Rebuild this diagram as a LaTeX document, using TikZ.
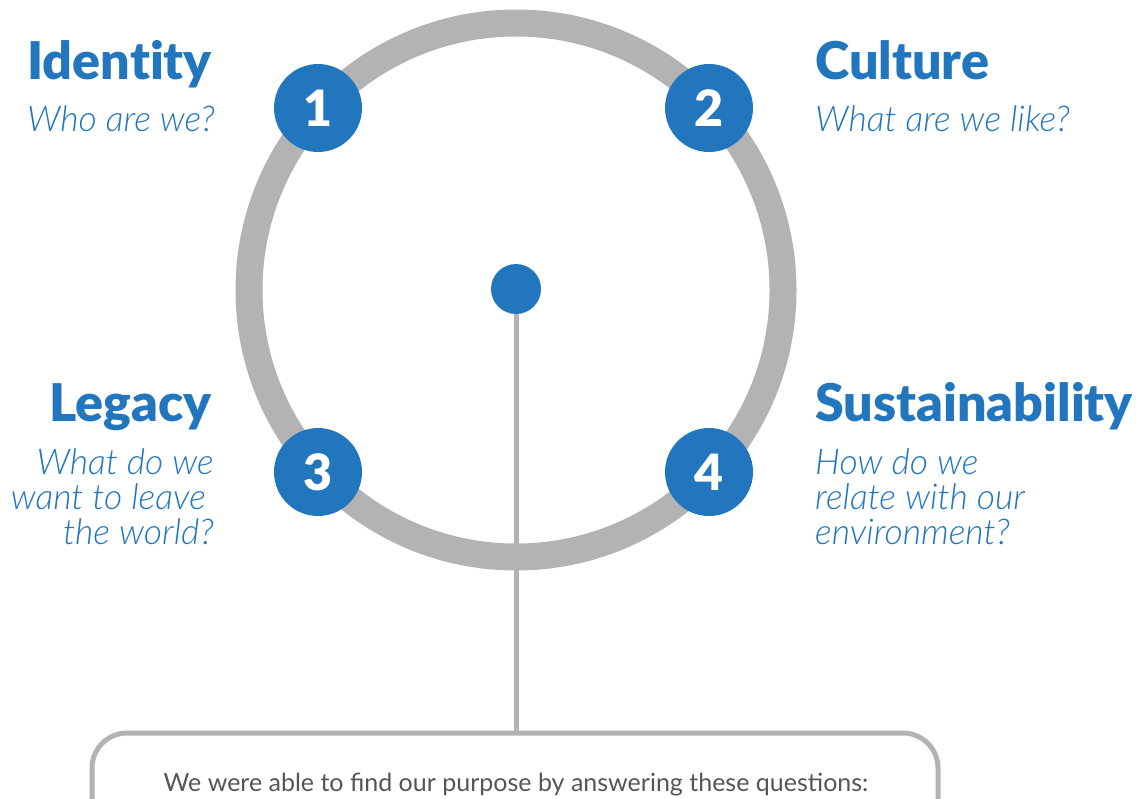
\documentclass[tikz,border=0pt]{standalone}
\usepackage{fontspec}
\setmainfont{Lato}
\newfontfamily\titlefont{Lato Black}[Ligatures=NoCommon]
\newfontfamily\askfont{Lato Light Italic}
\definecolor{mainblue}{HTML}{2176BD}
\definecolor{ringgray}{HTML}{B3B3B3}
\definecolor{textgray}{HTML}{555555}
\tikzset{
  ring/.style={draw=ringgray, line width=27pt},
  badge/.style={circle, fill=mainblue, minimum size=88pt, inner sep=0pt,
    text=white, font=\titlefont\fontsize{50}{50}\selectfont},
  hub/.style={circle, fill=mainblue, minimum size=50pt, inner sep=0pt},
  stem/.style={draw=ringgray, line width=5pt},
  heading/.style={inner sep=0pt, text=mainblue, font=\titlefont\fontsize{52}{52}\selectfont},
  question/.style={inner sep=0pt, text=mainblue, font=\askfont\fontsize{35.5}{35}\selectfont},
  panel/.style={draw=ringgray, line width=5pt, rounded corners=35pt},
}
\begin{document}
\begin{tikzpicture}[x=1pt,y=-1pt]
\useasboundingbox (0,0) rectangle (1139,798);
% outer ring
\draw[ring] (516,290) circle (267);
% stem from the hub down to the panel
\coordinate (paneltop) at (516,733);
\node[hub] (hub) at (516,289) {};
\draw[stem] (hub.south) -- (paneltop);
% bottom panel, running off the page
\draw[panel] (92,850) -- (92,733) -- (938,733) -- (938,850);
\node[inner sep=0pt, anchor=base, text=textgray, font=\fontsize{25}{25}\selectfont] (caption) at (516,791) {We were able to find our purpose by answering these questions:};
% numbered badges on the ring
\node[badge] (b1) at (318,108) {1};
\node[badge] (b2) at (709,108) {2};
\node[badge] (b3) at (318,472) {3};
\node[badge] (b4) at (709,472) {4};
% headings and questions
\node[heading, anchor=base east] (h1) at (212,79) {Identity};
\node[question, anchor=base east] (q1) at (215,131) {Who are we?};
\node[heading, anchor=base west] (h2) at (815,79) {Culture};
\node[question, anchor=base west] (q2) at (815,131) {What are we like?};
\node[heading, anchor=base east] (h3) at (212,421) {Legacy};
\node[question, anchor=north east, align=right] (q3) at (214,448) {What do we\\want to leave\rule{8pt}{0pt}\\the world?};
\node[heading, anchor=base west] (h4) at (815,421) {Sustainability};
\node[question, anchor=north west, align=left] (q4) at (815,448) {How do we\\relate with our\\environment?};
\end{tikzpicture}
\end{document}
